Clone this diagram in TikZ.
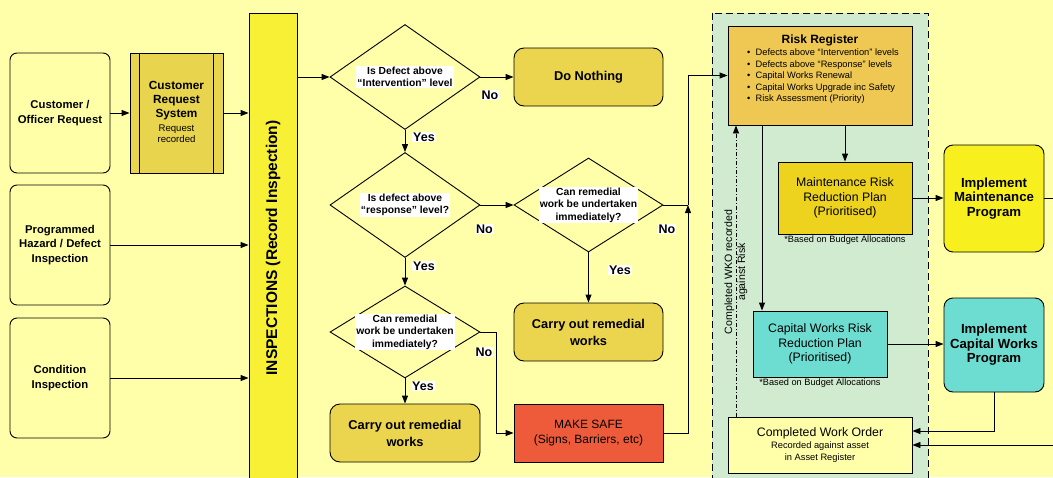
\documentclass[tikz,border=0pt]{standalone}
\usepackage{fontspec}
\setmainfont{Liberation Sans}
\usetikzlibrary{shapes.geometric,arrows.meta}
\definecolor{bg}{HTML}{FFFFAA}
\definecolor{lbox}{HTML}{FFFFA8}
\definecolor{crsfill}{HTML}{E8D44D}
\definecolor{barfill}{HTML}{F8F035}
\definecolor{goldbox}{HTML}{EBD44E}
\definecolor{safefill}{HTML}{EE5B3A}
\definecolor{greenzone}{HTML}{D0EBCF}
\definecolor{rrfill}{HTML}{EEC852}
\definecolor{mpfill}{HTML}{EDD21E}
\definecolor{teal}{HTML}{6EDDD1}
\definecolor{imfill}{HTML}{F7EF1E}
\definecolor{cwofill}{HTML}{FFFFAA}
\tikzset{
  every node/.style={inner sep=1pt},
  base/.style={draw, line width=0.9pt, align=center, inner sep=2pt},
  leftbox/.style={base, fill=lbox, rounded corners=7pt, minimum width=100pt, minimum height=120pt, font=\bfseries\fontsize{11.3}{14.2}\selectfont},
  decision/.style={diamond, draw, line width=0.9pt, fill=bg, inner sep=0pt},
  dtext/.style={fill=white, align=center, inner sep=1pt, font=\bfseries\fontsize{10.3}{12.6}\selectfont},
  actbox/.style={base, fill=goldbox, rounded corners=10pt, minimum width=149pt, minimum height=58pt, font=\bfseries\fontsize{12.8}{17}\selectfont},
  yn/.style={fill=white, inner sep=1pt, font=\bfseries\fontsize{12.5}{13}\selectfont},
  sqbox/.style={base, rounded corners=0pt},
  implbox/.style={base, rounded corners=9pt, minimum width=100pt, font=\bfseries\fontsize{13.2}{14.6}\selectfont},
  note/.style={font=\fontsize{9.2}{10}\selectfont},
  conn/.style={line width=0.9pt},
  arr/.style={conn, -{Triangle[length=8pt,width=6pt]}},
}
\begin{document}
\begin{tikzpicture}[x=1pt,y=-1pt]
\useasboundingbox (0,0) rectangle (1053,477);
\fill[bg] (0,0) rectangle (1053,477);

% green zone
\draw[line width=0.9pt, fill=greenzone, dash pattern=on 7pt off 4pt] (712,13) rectangle (928,495);

% left inputs
\node[leftbox] (cust) at (60,113) {Customer /\\Officer Request};
\node[leftbox] (prog) at (60,245) {Programmed\\Hazard / Defect\\Inspection};
\node[leftbox] (cond) at (60,378) {Condition\\Inspection};

% customer request system
\node[sqbox, fill=crsfill, minimum width=93pt, minimum height=120pt] (crs) at (176.5,113) {};
\draw[conn] ([xshift=10pt]crs.north west) -- ([xshift=10pt]crs.south west);
\draw[conn] ([xshift=-10pt]crs.north east) -- ([xshift=-10pt]crs.south east);
\node[align=center, font=\bfseries\fontsize{11.8}{14}\selectfont] (crst) at (176.5,101) {Customer\\Request\\System};
\node[align=center, font=\fontsize{9.6}{11}\selectfont] (crss) at (176.5,134) {Request\\recorded};

% inspections bar
\node[sqbox, fill=barfill, minimum width=48pt, minimum height=482pt] (bar) at (273,254) {};
\node[rotate=90, font=\bfseries\fontsize{15.5}{17}\selectfont] (bart) at (273,248) {INSPECTIONS (Record Inspection)};

\draw[arr] (cust.east) -- (crs.west);
\draw[arr] (crs.east) -- (crs.east -| bar.west);
\draw[arr] (prog.east) -- (prog.east -| bar.west);
\draw[arr] (cond.east) -- (cond.east -| bar.west);

% decisions
\node[decision, minimum width=150pt, minimum height=105pt] (d1) at (405,77) {};
\node[dtext] (d1t) at (405,77) {Is Defect above\\“Intervention” level};
\node[decision, minimum width=150pt, minimum height=105pt] (d2) at (405,205) {};
\node[dtext] (d2t) at (405,205) {Is defect above\\“response” level?};
\node[decision, minimum width=149pt, minimum height=94pt] (d3) at (588.5,205) {};
\node[dtext] (d3t) at (588.5,205) {Can remedial\\work be undertaken\\immediately?};
\node[decision, minimum width=150pt, minimum height=92pt] (d4) at (405,332) {};
\node[dtext] (d4t) at (405,332) {Can remedial\\work be undertaken\\immediately?};

% actions
\node[actbox] (dn) at (588.5,77) {Do Nothing};
\node[actbox] (c2) at (588.5,332) {Carry out remedial\\works};
\node[actbox, minimum width=150pt] (c1) at (405,433) {Carry out remedial\\works};
\node[sqbox, fill=safefill, minimum width=149pt, minimum height=58pt, font=\fontsize{12}{15.5}\selectfont] (ms) at (588.5,433) {MAKE SAFE\\(Signs, Barriers, etc)};

\draw[arr] (bar.east |- d1.west) -- (d1.west);
\draw[arr] (d1.east) -- (dn.west);
\draw[arr] (d1.south) -- (d2.north);
\draw[arr] (d2.east) -- (d3.west);
\draw[arr] (d2.south) -- (d4.north);
\draw[arr] (d3.south) -- (c2.north);
\draw[arr] (d4.south) -- (c1.north);
\coordinate (j1) at (496,332);
\draw[arr] (d4.east) -- (j1) |- (ms.west);
\coordinate (j2) at (688,205);
\draw[arr] (ms.east) -| (j2);
\draw[conn] (d3.east) -- (j2);

% yes / no labels
\node[yn] (n1) at (490,95) {No};
\node[yn] (y1) at (424,137) {Yes};
\node[yn] (n2) at (484.5,229) {No};
\node[yn] (n3) at (667,229) {No};
\node[yn] (y3) at (620,270) {Yes};
\node[yn] (y2) at (424,266) {Yes};
\node[yn] (n4) at (484,352) {No};
\node[yn] (y4) at (423,386) {Yes};

% risk register
\node[sqbox, fill=rrfill, minimum width=184pt, minimum height=99pt] (rr) at (820,75.5) {};
\node[font=\bfseries\fontsize{12}{13}\selectfont] (rrt) at (820,40) {Risk Register};
\node[anchor=west, align=left, font=\fontsize{9.3}{11.5}\selectfont] (rrb) at (746,76.5) {\textbullet\ \ Defects above “Intervention” levels\\\textbullet\ \ Defects above “Response” levels\\\textbullet\ \ Capital Works Renewal\\\textbullet\ \ Capital Works Upgrade inc Safety\\\textbullet\ \ Risk Assessment (Priority)};
\draw[arr] (j2) |- (rr.west);

% plans
\node[sqbox, fill=mpfill, minimum width=134pt, minimum height=72pt, font=\fontsize{12.3}{14.4}\selectfont] (mp) at (845,198) {Maintenance Risk\\Reduction Plan\\(Prioritised)};
\node[note] (mpn) at (845,240) {*Based on Budget Allocations};
\node[sqbox, fill=teal, minimum width=134pt, minimum height=66pt, font=\fontsize{12.3}{14.4}\selectfont] (cw) at (820,344) {Capital Works Risk\\Reduction Plan\\(Prioritised)};
\node[note] (cwn) at (820,383) {*Based on Budget Allocations};
\node[sqbox, fill=cwofill, minimum width=184pt, minimum height=56pt] (cwo) at (820,445) {};
\node[font=\fontsize{12.3}{13}\selectfont] (cwot) at (820,433) {Completed Work Order};
\node[align=center, font=\fontsize{9.3}{11.5}\selectfont] (cwos) at (820,452) {Recorded against asset\\in Asset Register};

\draw[arr] (rr.south -| mp.north) -- (mp.north);
\draw[arr] ([xshift=-58pt]rr.south) -- ([xshift=-58pt]rr.south |- cw.north);
\draw[arr, dash pattern=on 4pt off 2pt on 1pt off 2pt] ([xshift=-84pt]cwo.north) -- ([xshift=-84pt]rr.south);
\node[rotate=90, align=center, font=\fontsize{10.6}{13}\selectfont] (wko) at (736,272) {Completed WKO recorded\\against Risk};

% implement
\node[implbox, fill=imfill, minimum height=107pt] (im) at (994,198.5) {Implement\\Maintenance\\Program};
\node[implbox, fill=teal, minimum height=94pt] (ic) at (994,345) {Implement\\Capital Works\\Program};

\draw[arr] (mp.east) -- (mp.east -| im.west);
\draw[arr] (cw.east) -- (cw.east -| ic.west);
\coordinate (e1) at (1060,198.5);
\draw[conn] (im.east) -- (e1);
\coordinate (k) at (994,431);
\draw[arr] (ic.south) -- (k) -- (k -| cwo.east);
\coordinate (e2) at (1060,445);
\draw[arr] (e2) -- (e2 -| cwo.east);
\end{tikzpicture}
\end{document}
